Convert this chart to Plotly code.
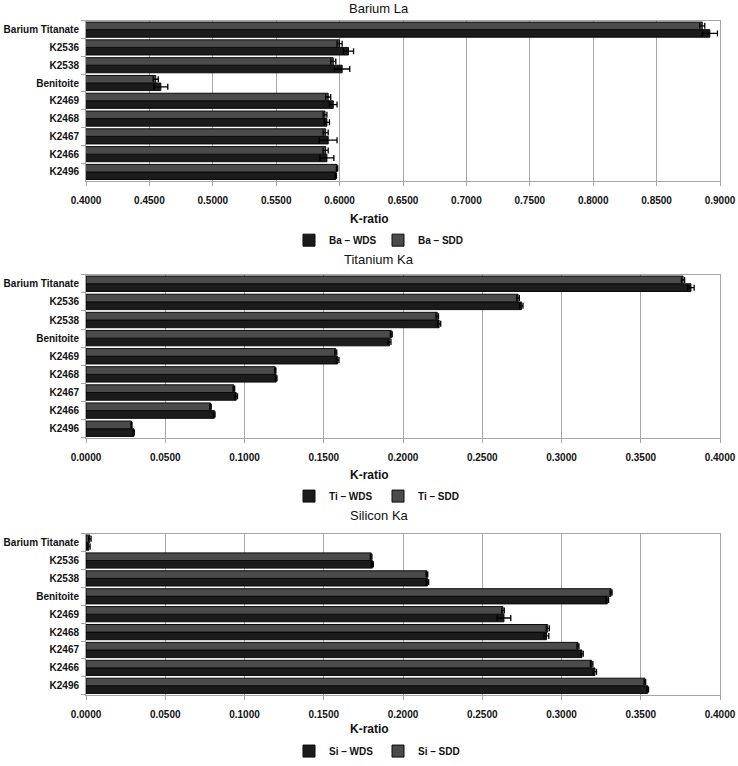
import plotly.graph_objects as go

categories = ["Barium Titanate", "K2536", "K2538", "Benitoite", "K2469",
              "K2468", "K2467", "K2466", "K2496"]

ba_wds = [0.892, 0.607, 0.602, 0.459, 0.595, 0.590, 0.591, 0.590, 0.597]
ba_wds_err = [0.006, 0.004, 0.006, 0.0055, 0.003, 0.002, 0.007, 0.0055, 0.0005]
ba_sdd = [0.886, 0.600, 0.595, 0.455, 0.591, 0.5885, 0.589, 0.589, 0.598]
ba_sdd_err = [0.002, 0.002, 0.002, 0.002, 0.002, 0.0015, 0.002, 0.002, 0.0005]

ti_wds = [0.3817, 0.2747, 0.2228, 0.1914, 0.1588, 0.1200, 0.0948, 0.0809, 0.0302]
ti_wds_err = [0.0020, 0.0010, 0.0010, 0.0010, 0.0008, 0.0005, 0.0008, 0.0005, 0.0003]
ti_sdd = [0.3767, 0.2726, 0.2216, 0.1926, 0.1576, 0.1194, 0.0933, 0.0785, 0.0287]
ti_sdd_err = [0.0010, 0.0008, 0.0008, 0.0006, 0.0006, 0.0004, 0.0005, 0.0005, 0.0003]

si_wds = [0.0018, 0.1807, 0.2154, 0.3289, 0.2637, 0.2905, 0.3129, 0.3211, 0.3544]
si_wds_err = [0.0008, 0.0006, 0.0008, 0.0008, 0.0043, 0.0015, 0.0008, 0.0010, 0.0005]
si_sdd = [0.0024, 0.1799, 0.2151, 0.3313, 0.2631, 0.2913, 0.3104, 0.3190, 0.3526]
si_sdd_err = [0.0008, 0.0005, 0.0005, 0.0006, 0.0008, 0.0010, 0.0006, 0.0008, 0.0005]

panel_titles = ["Barium La", "Titanium Ka", "Silicon Ka"]
x_ranges = [[0.4, 0.9], [0.0, 0.4], [0.0, 0.4]]
x_dticks = [0.05, 0.05, 0.05]
series_names = [("Ba – WDS", "Ba – SDD"), ("Ti – WDS", "Ti – SDD"), ("Si – WDS", "Si – SDD")]

W, H = 738, 766
WDS_COLOR = "#1b1b1b"
SDD_COLOR = "#4b4b4b"
FONT = "Liberation Sans, Arial, sans-serif"

def px_y(p):
    return 1 - p / H

def px_x(p):
    return p / W

# plot area pixel bounds (top, bottom)
panels_px = [(21, 183), (278, 443), (540, 703)]
title_px = [9, 263, 522]
xlabel_px = [222, 481, 738]
legend_px = [243, 502, 760]
x_left, x_right = 86, 720
title_x = 379
xlabel_x = 369
legend_x = 378

data = [
    (ba_wds, ba_wds_err, ba_sdd, ba_sdd_err),
    (ti_wds, ti_wds_err, ti_sdd, ti_sdd_err),
    (si_wds, si_wds_err, si_sdd, si_sdd_err),
]

fig = go.Figure()
annotations = []
layout_updates = {}

for i in range(3):
    wds, wds_err, sdd, sdd_err = data[i]
    suffix = "" if i == 0 else str(i + 1)
    xa = "x" + suffix
    ya = "y" + suffix
    leg = "legend" + suffix
    fig.add_trace(go.Bar(
        y=categories, x=wds, orientation="h", name=series_names[i][0],
        marker=dict(color=WDS_COLOR, line=dict(color="#0a0a0a", width=1)),
        error_x=dict(type="data", array=wds_err, color="black", thickness=1.3, width=3),
        xaxis=xa, yaxis=ya, legend=leg,
    ))
    fig.add_trace(go.Bar(
        y=categories, x=sdd, orientation="h", name=series_names[i][1],
        marker=dict(color=SDD_COLOR, line=dict(color="#0a0a0a", width=1)),
        error_x=dict(type="data", array=sdd_err, color="black", thickness=1.3, width=3),
        xaxis=xa, yaxis=ya, legend=leg,
    ))
    top, bot = panels_px[i]
    ticks = []
    v = x_ranges[i][0]
    while v <= x_ranges[i][1] + 1e-9:
        ticks.append(round(v, 4))
        v += x_dticks[i]
    layout_updates["xaxis" + suffix] = dict(
        domain=[px_x(x_left), px_x(x_right)], anchor=ya, automargin=False,
        range=x_ranges[i], tickvals=ticks, ticktext=[f"{t:.4f}" for t in ticks],
        showgrid=True, gridcolor="#a6a6a6", gridwidth=1,
        showline=True, linecolor="#a6a6a6", linewidth=1, mirror=True,
        ticks="outside", ticklen=4, tickcolor="#a6a6a6", ticklabelstandoff=6,
        tickfont=dict(family=FONT, size=10, color="#111", weight="bold"),
        zeroline=False, fixedrange=True,
    )
    layout_updates["yaxis" + suffix] = dict(
        domain=[px_y(bot), px_y(top)], anchor=xa, automargin=False,
        categoryorder="array", categoryarray=categories[::-1],
        showline=True, linecolor="#a6a6a6", linewidth=1, mirror=True,
        ticks="outside", ticklen=4, tickcolor="#a6a6a6", tickson="boundaries",
        ticklabelstandoff=4,
        tickfont=dict(family=FONT, size=10, color="#111", weight="bold"),
        showgrid=False, fixedrange=True,
    )
    layout_updates[leg] = dict(
        orientation="h", x=px_x(legend_x), y=px_y(legend_px[i]),
        xanchor="center", yanchor="middle",
        font=dict(family=FONT, size=10, color="#111", weight="bold"),
        bgcolor="rgba(0,0,0,0)", itemwidth=30, entrywidth=44, tracegroupgap=0,
        itemclick=False, itemdoubleclick=False,
    )
    annotations.append(dict(
        text=panel_titles[i], x=px_x(title_x), y=px_y(title_px[i]),
        xref="paper", yref="paper", showarrow=False,
        xanchor="center", yanchor="middle",
        font=dict(family=FONT, size=13, color="#111"),
    ))
    annotations.append(dict(
        text="K-ratio", x=px_x(xlabel_x), y=px_y(xlabel_px[i]),
        xref="paper", yref="paper", showarrow=False,
        xanchor="center", yanchor="middle",
        font=dict(family=FONT, size=12, color="#111", weight="bold"),
    ))

fig.update_layout(
    width=W, height=H,
    margin=dict(l=0, r=0, t=0, b=0),
    paper_bgcolor="white", plot_bgcolor="white",
    barmode="group", bargap=0.15, bargroupgap=0.0,
    annotations=annotations,
    showlegend=True,
    hovermode=False,
    **layout_updates,
)

fig.write_html("out.html", config={"displayModeBar": False},
               post_script="document.body.style.margin='0';")
